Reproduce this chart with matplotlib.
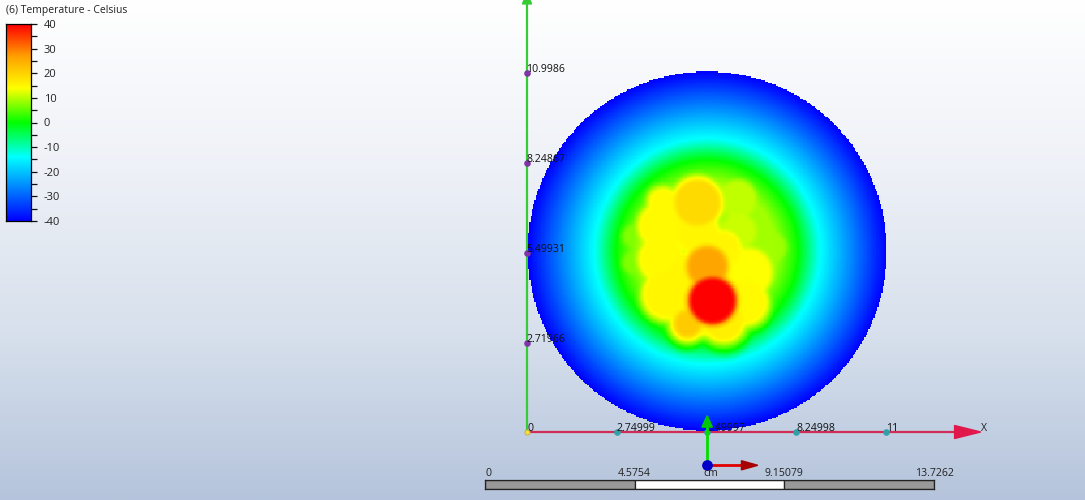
"""
Temperature contour on a disc, drawn like the Mechanical viewer screenshot.
"""

import numpy as np
import matplotlib
matplotlib.use('Agg')
import matplotlib.pyplot as plt
from matplotlib.colors import LinearSegmentedColormap

plt.rcParams['font.family'] = ['Open Sans', 'DejaVu Sans']
plt.rcParams['axes.unicode_minus'] = False

W, H = 1085, 500

# Legend
legend_title = '(6) Temperature - Celsius'
legend_ticks = [40, 30, 20, 10, 0, -10, -20, -30, -40]
legend_minor = [35, 25, 15, 5, -5, -15, -25, -35]
cmap_values = [-40, -14, 0, 14, 27, 40]
cmap_colors = ['#0000ff', '#00ffff', '#00ff00', '#ffff00', '#ffa000', '#ff0000']

# Model axes, in cm
x_ticks = [0, 2.74999, 5.49997, 8.24998, 11]
x_labels = ['0', '2.74999', '5.49997', '8.24998', '11']
y_ticks = [2.71966, 5.49931, 8.24867, 10.9986]
y_labels = ['2.71966', '5.49931', '8.24867', '10.9986']

# Disc, in cm
disc_center = (5.5, 5.52)
disc_radius = 5.51
radial_r = [0.0, 2.1, 2.5, 2.8, 3.4, 5.51]
radial_t = [9, 9, 4, 0, -13, -40]

# Hot spots: x, y, radius (cm), temperature
spot_x = [5.66, 5.5, 5.2, 6.42, 6.46, 7.38, 4.1, 4.1, 4.3, 4.15, 5.2, 6.75, 6.65, 6.0, 4.9, 3.3, 3.3, 5.0, 5.4, 6.0]
spot_y = [4.0, 5.05, 7.0, 7.1, 6.13, 5.64, 6.28, 5.27, 4.2, 7.0, 6.1, 4.87, 3.95, 3.4, 3.3, 5.97, 5.17, 4.6, 3.6, 5.6]
spot_r = [0.66, 0.56, 0.65, 0.56, 0.52, 0.52, 0.66, 0.66, 0.72, 0.4, 0.62, 0.7, 0.65, 0.58, 0.36, 0.36, 0.36, 0.8, 0.6, 0.5]
spot_t = [40, 26, 19, 10.5, 11, 8.5, 14.5, 14.5, 15, 14.5, 15, 14, 14.5, 16, 21, 7, 7, 15, 15, 15]

# Scale bar
scale_edges = [0, 4.5754, 9.15079, 13.7262]
scale_labels = ['0', '4.5754', '9.15079', '13.7262']
scale_unit = 'cm'


def temperature_field(xx, yy):
    """Radial background with flat hot spots laid on top"""
    r = np.hypot(xx - disc_center[0], yy - disc_center[1])
    field = np.interp(r, radial_r, radial_t)
    # Spot value falls away fast outside its radius, hot spots faster
    for sx, sy, sr, st in zip(spot_x, spot_y, spot_r, spot_t):
        d = np.hypot(xx - sx, yy - sy)
        edge = np.clip((d - sr) / 0.25, 0, None)
        field = np.maximum(field, st - max(11, st - 8) * edge)
    # Small box blur, the contour has no hard steps inside the disc
    kernel = np.ones(5) / 5
    field = np.apply_along_axis(np.convolve, 0, field, kernel, mode='same')
    field = np.apply_along_axis(np.convolve, 1, field, kernel, mode='same')
    field[r > disc_radius] = np.nan
    return field


span = cmap_values[-1] - cmap_values[0]
stops = [(v - cmap_values[0]) / span for v in cmap_values]
cmap = LinearSegmentedColormap.from_list('ansys', list(zip(stops, cmap_colors)), N=256)

fig = plt.figure(figsize=(W / 100, H / 100), dpi=100)

# Background gradient
ax_bg = fig.add_axes([0, 0, 1, 1])
bg = LinearSegmentedColormap.from_list('bg', ['#ffffff', '#eef1f7', '#d7e0ec', '#b5c4dc'])
ax_bg.imshow(np.linspace(0, 1, 256)[:, None], cmap=bg, aspect='auto', extent=(0, W, H, 0))
ax_bg.set_xlim(0, W)
ax_bg.set_ylim(H, 0)
ax_bg.axis('off')

# Model axes: 32.64 px per cm, origin at pixel (527, 432)
px_cm = 32.64
ax = fig.add_axes([0, 0, 1, 1])
ax.patch.set_alpha(0)
ax.axis('off')

# X and Y axes with arrowheads, disc goes over them
top = 432 / px_cm
ax.plot([0, 13.1], [0, 0], color='#d02c58', lw=1.6, zorder=1)
ax.plot([0, 0], [0, top], color='#35cc35', lw=1.6, zorder=1)
ax.fill([13.1, 13.1, 13.9], [0.2, -0.2, 0], color='#e0184c', zorder=4)
ax.fill([-0.14, 0.14, 0], [top - 0.12, top - 0.12, top + 0.2], color='#35cc35', zorder=4)

# Coarse cells give the stepped edge of the disc
grid = np.arange(-0.1, 11.2, 0.04)
xx, yy = np.meshgrid(grid, grid)
field = temperature_field(xx, yy)
ax.imshow(field, cmap=cmap, vmin=-40, vmax=40, origin='lower', interpolation='nearest',
          extent=(grid[0], grid[-1], grid[0], grid[-1]), aspect='auto', zorder=2)
ax.set_xlim(-527 / px_cm, (W - 527) / px_cm)
ax.set_ylim(-(H - 432) / px_cm, 432 / px_cm)

ax.scatter(x_ticks[1:], [0] * 4, s=14, color='#2fa0a8', zorder=5)
ax.scatter([0], [0], s=14, color='#f2e040', edgecolor='#c8a020', linewidth=0.5, zorder=5)
ax.scatter([0] * 4, y_ticks, s=14, color='#7f35a8', zorder=5)

for x, lab in zip(x_ticks, x_labels):
    ax.text(x, 0.1, lab, fontsize=7.6, color='#111111', ha='left', va='center', zorder=6)
for y, lab in zip(y_ticks, y_labels):
    ax.text(-0.03, y + 0.1, lab, fontsize=7.6, color='#111111', ha='left', va='center', zorder=6)
ax.text(13.9, 0.1, 'X', fontsize=7.6, color='#222222', ha='left', va='center', zorder=6)

# Legend bar
ax_cb = fig.add_axes([5.5 / W, 1 - 221 / H, 25 / W, 197 / H])
ax_cb.imshow(np.linspace(40, -40, 256)[:, None], cmap=cmap, vmin=-40, vmax=40,
             aspect='auto', extent=(0, 1, -40, 40))
ax_cb.set_xticks([])
ax_cb.yaxis.tick_right()
ax_cb.set_yticks(legend_ticks)
ax_cb.set_yticks(legend_minor, minor=True)
ax_cb.tick_params(axis='y', which='both', length=4.4, width=0.9, pad=5, labelsize=8,
                  color='#111111', labelcolor='#222222')
for side in ax_cb.spines.values():
    side.set_linewidth(0.9)
fig.text(6 / W, 1 - 10 / H, legend_title, fontsize=7.5, color='#222222', va='center')

# Scale bar
ax_sb = fig.add_axes([485 / W, 1 - 489 / H, 449 / W, 9 / H])
ax_sb.set_xlim(scale_edges[0], scale_edges[-1])
ax_sb.set_ylim(0, 1)
ax_sb.set_xticks([])
ax_sb.set_yticks([])
for left, right, c in zip(scale_edges[:-1], scale_edges[1:], ['#999999', '#ffffff', '#999999']):
    ax_sb.barh(0.5, right - left, left=left, height=1, color=c, edgecolor='#222222', linewidth=0.9)
for side in ax_sb.spines.values():
    side.set_linewidth(0.9)
    side.set_color('#222222')
for v, lab, ha in zip(scale_edges, scale_labels, ['left', 'center', 'center', 'center']):
    ax_sb.text(v, 1.1, lab, fontsize=7.6, color='#222222', ha=ha, va='bottom', clip_on=False)
ax_sb.text(scale_edges[-1] / 2 + 0.05, 1.1, scale_unit, fontsize=7.6, color='#222222',
           ha='center', va='bottom', clip_on=False)

# Triad at the bottom centre
triad_x = 5.52
triad_y = -1.02
ax.plot([triad_x, triad_x], [triad_y, 0.2], color='#00e000', lw=2, zorder=7)
ax.fill([triad_x - 0.16, triad_x + 0.16, triad_x], [0.15, 0.15, 0.5], color='#00c800', zorder=7)
ax.plot([triad_x, triad_x + 1.05], [triad_y, triad_y], color='#e00000', lw=2, zorder=7)
ax.fill([triad_x + 1.05, triad_x + 1.05, triad_x + 1.55], [triad_y + 0.14, triad_y - 0.14, triad_y],
        color='#a80000', zorder=7)
ax.scatter([triad_x], [triad_y], s=45, color='#0000c8', zorder=8)

fig.savefig('out.png', dpi=100)
plt.close(fig)
